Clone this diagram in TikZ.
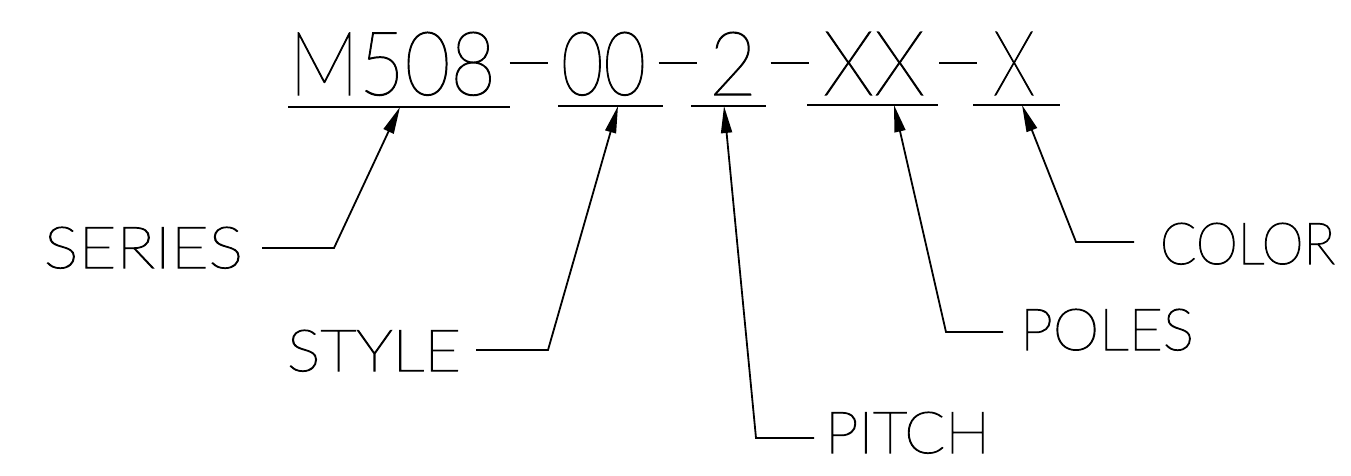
\documentclass[tikz,border=0pt]{standalone}
\usepackage{fontspec}
\usepackage{graphicx}
\newfontfamily\cad{Lato Thin}[FakeBold=1.2]
\newfontfamily\cadlbl{Lato Thin}[FakeBold=2]
\usetikzlibrary{arrows.meta}
\tikzset{
  txt/.style={inner sep=0pt, outer sep=0pt, anchor=base, font=\cad\fontsize{88pt}{90pt}\selectfont},
  lbl/.style={txt, font=\cadlbl\fontsize{57pt}{60pt}\selectfont},
  under/.style={line width=2pt},
  leader/.style={line width=1.8pt, -{Triangle[length=27pt,width=11pt]}},
}
\newcommand{\cadhyph}{\rule[31pt]{38pt}{2pt}}
\begin{document}
\begin{tikzpicture}[x=1pt,y=-1pt]
\useasboundingbox (0,0) rectangle (1351,475);
% part number
\node[txt] (g1) at (392.5,95) {\resizebox{207pt}{63pt}{M508}};
\node[txt] (d1) at (528.5,95) {\cadhyph};
\node[txt] (g2) at (603.5,95) {\resizebox{85pt}{63pt}{00}};
\node[txt] (d2) at (677.5,95) {\cadhyph};
\node[txt] (g3) at (733,95) {\resizebox{48pt}{63pt}{2}};
\node[txt] (d3) at (789.5,95) {\cadhyph};
\node[txt] (g4) at (874,95) {\resizebox{102pt}{63pt}{XX}};
\node[txt] (d4) at (958,95) {\cadhyph};
\node[txt] (g5) at (1014,95) {\resizebox{42pt}{63pt}{X}};
% underlines
\draw[under, line width=2.4pt] (288,107) -- (510,107);
\draw[under] (558,106) -- (663,106);
\draw[under] (691,106) -- (766,106);
\draw[under] (807,105) -- (938,105);
\draw[under] (973,105) -- (1060,105);
% labels
\node[lbl] (series) at (143.5,268) {\resizebox{199pt}{41pt}{SERIES}};
\node[lbl] (style)  at (374,371)   {\resizebox{174pt}{41pt}{STYLE}};
\node[lbl] (pitch)  at (907.5,453) {\resizebox{165pt}{41pt}{PITCH}};
\node[lbl] (poles)  at (1107,350)  {\resizebox{174pt}{41pt}{POLES}};
\node[lbl] (color)  at (1247.5,264) {\resizebox{175pt}{41pt}{COLOR}};
% leader points
\coordinate (sA) at (262,248);  \coordinate (sB) at (334,248);  \coordinate (sT) at (400,107);
\coordinate (yA) at (476,350);  \coordinate (yB) at (548,350);  \coordinate (yT) at (618,106);
\coordinate (pA) at (814,438);  \coordinate (pB) at (756,438);  \coordinate (pT) at (724,106);
\coordinate (oA) at (1003,332); \coordinate (oB) at (946,332);  \coordinate (oT) at (894,105);
\coordinate (cA) at (1134,242); \coordinate (cB) at (1076,242); \coordinate (cT) at (1022,105);
\draw[leader] (sA) -- (sB) -- (sT);
\draw[leader] (yA) -- (yB) -- (yT);
\draw[leader] (pA) -- (pB) -- (pT);
\draw[leader] (oA) -- (oB) -- (oT);
\draw[leader] (cA) -- (cB) -- (cT);
\end{tikzpicture}
\end{document}
